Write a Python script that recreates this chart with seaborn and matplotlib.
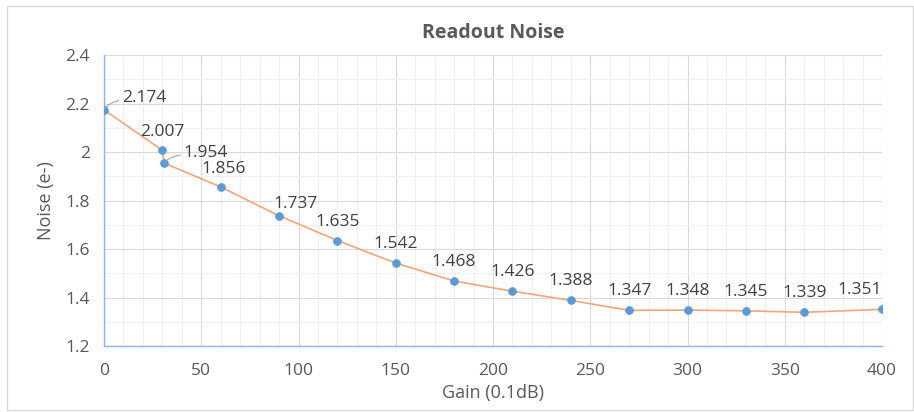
import numpy as np
import pandas as pd
import seaborn as sns
import matplotlib.pyplot as plt
from matplotlib.ticker import MultipleLocator
from matplotlib.patches import Rectangle

gain = [0, 30, 31, 60, 90, 120, 150, 180, 210, 240, 270, 300, 330, 360, 400]
noise = [2.174, 2.007, 1.954, 1.856, 1.737, 1.635, 1.542, 1.468, 1.426, 1.388,
         1.347, 1.348, 1.345, 1.339, 1.351]
labels = ["2.174", "2.007", "1.954", "1.856", "1.737", "1.635", "1.542", "1.468",
          "1.426", "1.388", "1.347", "1.348", "1.345", "1.339", "1.351"]

df = pd.DataFrame({"Gain": gain, "Noise": noise})

sns.set_style("white")
plt.rcParams['font.family'] = ['Open Sans', 'DejaVu Sans']

fig = plt.figure(figsize=(9.14, 4.12), dpi=100)
ax = fig.add_axes([104 / 914, 1 - 346 / 412, 778 / 914, 291 / 412])

#chart border
fig.patches.append(Rectangle((7 / 914, 2 / 412), 906 / 914, 404 / 412, transform=fig.transFigure,
                             fill=False, edgecolor="#D9D9D9", linewidth=1))

sns.lineplot(data=df, x="Gain", y="Noise", color="#F2A679", linewidth=1.2, ax=ax, zorder=3)
sns.scatterplot(data=df, x="Gain", y="Noise", color="#5B9BD5", s=32, edgecolor="#5B9BD5",
                linewidth=0.5, ax=ax, zorder=4)

ax.set_xlim(0, 400)
ax.set_ylim(1.2, 2.4)
ax.xaxis.set_major_locator(MultipleLocator(50))
ax.xaxis.set_minor_locator(MultipleLocator(10))
ax.yaxis.set_minor_locator(MultipleLocator(0.1))
ax.set_yticks(np.arange(1.2, 2.41, 0.2))
ax.set_yticklabels(["1.2", "1.4", "1.6", "1.8", "2", "2.2", "2.4"])

ax.grid(which="major", color="#D9D9D9", linewidth=0.8)
ax.grid(which="minor", color="#F0F0F0", linewidth=0.8)
ax.set_axisbelow(True)

for s in ["top", "right"]:
    ax.spines[s].set_visible(False)
for s in ["left", "bottom"]:
    ax.spines[s].set_color("#8DB4E2")
    ax.spines[s].set_linewidth(1)

ax.tick_params(which="major", length=0, labelsize=12.5, labelcolor="#595959")
ax.tick_params(axis="x", which="major", pad=12)
ax.tick_params(axis="y", which="major", pad=10)
ax.tick_params(which="minor", direction="in", length=4, color="#8DB4E2")

ax.set_xlabel("Gain (0.1dB)", fontsize=13, color="#595959", labelpad=4)
ax.set_ylabel("Noise (e-)", fontsize=13, color="#595959", labelpad=8)
ax.set_title("Readout Noise", fontsize=14, fontweight="bold", color="#595959", pad=12)

#data labels, offsets in pixels
offsets = {0: (18, 12, "left"), 1: (0, 18, "center"), 2: (19, 10, "left"), 3: (3, 18, "center"),
           4: (16, 12, "center"), 14: (-22, 19, "center")}
for i, (gx, ny, lab) in enumerate(zip(gain, noise, labels)):
    dx, dy, ha = offsets.get(i, (0, 19, "center"))
    arrow = None
    if i in (0, 2):
        arrow = dict(arrowstyle="-", color="#A6A6A6", linewidth=0.8, shrinkA=0, shrinkB=1,
                     connectionstyle="angle3,angleA=0,angleB=60")
    ax.annotate(lab, (gx, ny), xytext=(dx, dy), textcoords="offset pixels", ha=ha, va="center",
                fontsize=12.5, color="#404040", arrowprops=arrow, zorder=5)

plt.savefig("out.png", dpi=100)
